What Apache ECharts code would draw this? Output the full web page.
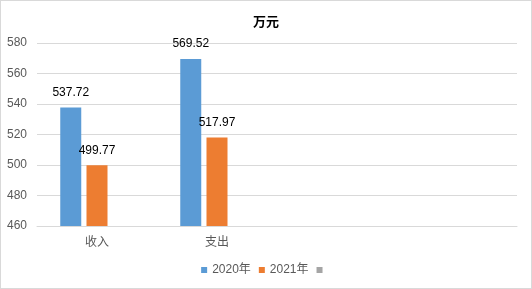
<!DOCTYPE html>
<html><head><meta charset="utf-8">
<script src="https://cdn.jsdelivr.net/npm/echarts@6/dist/echarts.min.js"></script>
<style>html,body{margin:0;padding:0;background:#fff}#c{width:532px;height:289px;box-sizing:border-box;border:1px solid #d9d9d9}</style>
</head><body><div id="c"></div>
<script>
var categories = ['收入', '支出', '', ''];
var series2020 = [537.72, 569.52, null, null];
var series2021 = [499.77, 517.97, null, null];
var series3 = [null, null, null, null];
var yTicks = [460, 480, 500, 520, 540, 560, 580];

var chart = echarts.init(document.getElementById('c'), null, {renderer: 'canvas'});
var labelCfg = {show: true, position: 'top', distance: 9, color: '#000', fontSize: 12, fontFamily: 'Liberation Sans, Arial, sans-serif', formatter: function(p){return p.value == null ? '' : p.value.toFixed(2);}};
chart.setOption({
  animation: false,
  title: {text: '万元', left: 'center', top: 9, textStyle: {fontSize: 13, fontWeight: 'bold', color: '#000', fontFamily: 'Noto Sans CJK SC, sans-serif'}},
  grid: {left: 36, right: 14, top: 42, bottom: 62},
  legend: {bottom: 7, left: 'center', itemWidth: 6, itemHeight: 6, itemGap: 8, icon: 'rect',
    textStyle: {fontSize: 12, color: '#595959', fontFamily: 'Liberation Sans, Noto Sans CJK SC, sans-serif'},
    data: ['2020年', '2021年', ' ']},
  xAxis: {type: 'category', data: categories,
    axisLine: {lineStyle: {color: '#d9d9d9'}}, axisTick: {show: false},
    axisLabel: {color: '#595959', fontSize: 12, margin: 9, fontFamily: 'Noto Sans CJK SC, sans-serif', interval: 0}},
  yAxis: {type: 'value', min: yTicks[0], max: yTicks[yTicks.length-1], interval: 20,
    axisLine: {show: false}, axisTick: {show: false},
    splitLine: {lineStyle: {color: '#d9d9d9'}},
    axisLabel: {color: '#595959', fontSize: 12, margin: 10, fontFamily: 'Liberation Sans, Arial, sans-serif'}},
  series: [
    {name: '2020年', type: 'bar', data: series2020, barWidth: 21, barGap: '25%', itemStyle: {color: '#5b9bd5'}, label: labelCfg},
    {name: '2021年', type: 'bar', data: series2021, barWidth: 21, barGap: '25%', itemStyle: {color: '#ed7d31'}, label: labelCfg},
    {name: ' ', type: 'bar', data: series3, barWidth: 21, barGap: '25%', itemStyle: {color: '#a5a5a5'}}
  ]
});
</script></body></html>
